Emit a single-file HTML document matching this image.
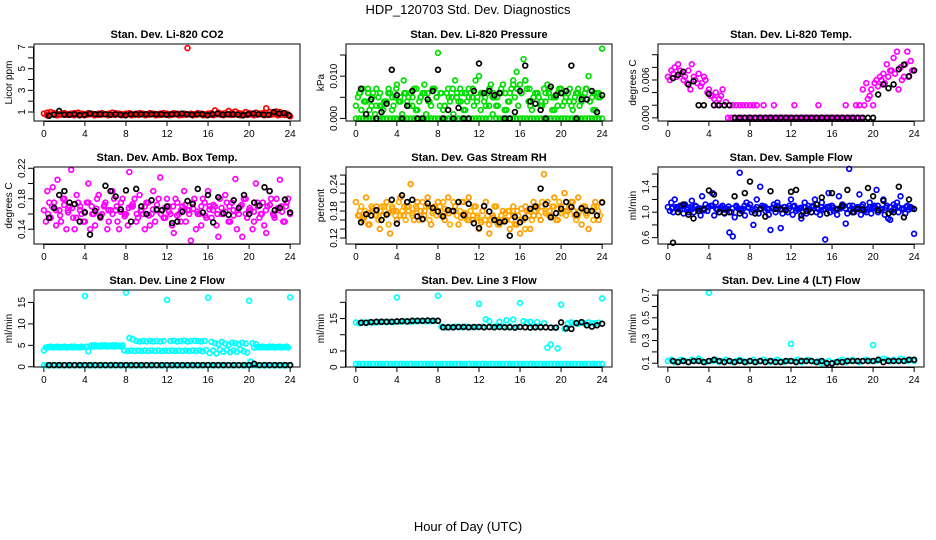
<!DOCTYPE html>
<html><head><meta charset="utf-8"><title>HDP_120703 Std. Dev. Diagnostics</title>
<style>
html,body{margin:0;padding:0;background:#fff;}
svg{display:block;font-family:"Liberation Sans",sans-serif;}
</style></head>
<body>
<svg id="chart" width="936" height="540" viewBox="0 0 936 540" xmlns="http://www.w3.org/2000/svg">
<rect x="0" y="0" width="936" height="540" fill="#fff"/>
<text x="468" y="14" text-anchor="middle" font-size="13">HDP_120703  Std. Dev. Diagnostics</text>
<text x="468" y="531" text-anchor="middle" font-size="13">Hour of Day (UTC)</text>
</svg>
<script>
// ---- data arrays (x = evenly spaced hours) ----
const xTicks = [0,4,8,12,16,20,24];
const xTickLabels = ["0","4","8","12","16","20","24"];

const co2Red1 = [0.85,0.95,1.0,0.9,0.8,0.85,0.9,0.8,0.85,0.9,0.95,0.85,0.8,0.9,0.85,0.8,0.85,0.9,0.8,0.85,0.95,0.9,0.85,0.8,0.85,0.9,0.8,0.85,0.9,0.85,0.8,0.9,0.85,0.8,0.85,0.9,0.85,0.8,0.9,0.85,0.8,0.85,6.9,0.85,0.8,0.9,0.85,0.8,0.85,0.9,1.15,0.95,0.85,0.9,1.1,0.95,1.05,0.9,0.85,1.0,0.9,0.85,0.95,0.85,0.9,1.35,1.0,0.9,1.05,1.0,0.9,0.85,0.6];
const co2Red2 = [0.7,0.75,0.8,0.7,0.75,0.8,0.72,0.75,0.7,0.78,0.75,0.7,0.75,0.8,0.7,0.72,0.75,0.8,0.7,0.75,0.72,0.78,0.7,0.75,0.8,0.7,0.75,0.72,0.78,0.7,0.75,0.8,0.7,0.72,0.75,0.78,0.7,0.75,0.8,0.7,0.72,0.75,0.78,0.7,0.75,0.8,0.7,0.72,0.75,0.7,0.8,0.75,0.7,0.78,0.72,0.75,0.8,0.7,0.75,0.72,0.78,0.7,0.75,0.8,0.7,0.72,0.75,0.8,0.7,0.75,0.72,0.7];
const co2Black = [0.65,0.75,1.1,0.75,0.75,0.8,0.7,0.75,0.85,0.8,0.8,0.8,0.75,0.8,0.75,0.7,0.8,0.8,0.8,0.8,0.8,0.8,0.8,0.75,0.8,0.8,0.85,0.8,0.75,0.8,0.8,0.7,0.8,0.85,0.75,0.8,0.8,0.75,0.7,0.8,0.85,0.8,0.75,0.75,1.0,0.85,0.9,0.7];

const presGreen1 = [0.003,0.006,0.007,0.004,0.002,0.006,0.007,0.003,0.002,0.004,0.006,0.003,0.008,0.005,0.009,0.004,0.006,0.007,0.002,0.005,0.008,0.006,0.003,0.007,0.0155,0.006,0.003,0.007,0.005,0.009,0.004,0.006,0.002,0.007,0.005,0.009,0.01,0.006,0.003,0.007,0.005,0.003,0.006,0.008,0.002,0.006,0.009,0.011,0.008,0.014,0.007,0.003,0.005,0.006,0.003,0.007,0.008,0.005,0.002,0.006,0.007,0.004,0.006,0.003,0.005,0.007,0.004,0.006,0.01,0.005,0.002,0.006,0.0165];
const presGreen2 = [0.005,0.002,0.004,0.006,0.003,0.001,0.005,0.003,0.004,0.007,0.002,0.005,0.004,0.001,0.006,0.003,0.005,0.002,0.004,0.006,0.001,0.004,0.007,0.005,0.003,0.002,0.006,0.004,0.001,0.005,0.007,0.002,0.004,0.006,0.003,0.005,0.002,0.004,0.006,0.008,0.005,0.003,0.006,0.002,0.004,0.007,0.005,0.003,0.006,0.009,0.004,0.002,0.006,0.005,0.003,0.004,0.006,0.002,0.005,0.007,0.003,0.005,0.004,0.002,0.006,0.003,0.005,0.007,0.004,0.002,0.006,0.005];
const presGreen4 = [0.006,0.004,0.007,0.005,0.003,0.006,0.004,0.006,0.005,0.007,0.004,0.006,0.005,0.003,0.007,0.005,0.006,0.004,0.007,0.005,0.006,0.003,0.005,0.007,0.006,0.004,0.006,0.005,0.007,0.004,0.006,0.005,0.003,0.006,0.005,0.007,0.006,0.004,0.008,0.007,0.006,0.009,0.007,0.005,0.006,0.004,0.006,0.007,0.005,0.003,0.006,0.005,0.007,0.004,0.006,0.005,0.007,0.004,0.006,0.005];
const presGreen3 = [0,0,0,0,0,0,0,0,0,0,0,0,0,0,0,0,0,0,0,0,0,0,0,0,0,0,0,0,0,0,0,0,0,0,0,0,0,0,0,0,0.001,0,0,0,0,0,0,0,0,0,0,0,0,0,0,0,0,0,0,0,0,0,0,0,0,0,0,0,0,0,0,0,0];
const presBlack = [0.007,0.001,0.0045,0,0.0015,0.0035,0.0115,0.0055,0,0.003,0.0065,0,0,0.0045,0.0065,0.0115,0,0.002,0,0.0025,0,0,0.0065,0.013,0.006,0.0065,0.0055,0.006,0,0,0.0015,0.0065,0.0125,0.004,0.0035,0.002,0,0.0075,0.0055,0.006,0.0065,0.0125,0,0.0045,0.0045,0.0065,0.0015,0.0055];

const tempMag1 = [0.0065,0.0075,0.008,0.0085,0.007,0.0065,0.0075,0.0085,0.006,0.007,0.0055,0.006,0.0045,0.0035,0.004,0.003,0.0045,0.0025,0.002,0.002,0.002,0.002,0.002,0.002,0.002,0.002,0.002,0,0.002,0,0,0.002,0,0,0,0,0,0.002,0,0,0,0,0,0,0.002,0,0,0,0,0,0,0,0.002,0,0,0.002,0.002,0.0045,0.0055,0.0035,0.002,0.006,0.0065,0.007,0.0085,0.0075,0.0095,0.0105,0.008,0.0065,0.0105,0.009,0.0075];
const tempMag2 = [0.006,0.007,0.0065,0.0075,0.006,0.0055,0.0045,0.0065,0.0055,0.005,0.0065,0.004,0.0035,0.003,0.002,0.0035,0.002,0,0,0,0,0,0,0,0,0,0,0,0,0,0,0,0,0,0,0,0,0,0,0,0,0,0,0,0,0,0,0,0,0,0,0,0,0,0,0,0,0.002,0.003,0.0045,0.0055,0.005,0.006,0.0055,0.0065,0.0075,0.007,0.0045,0.006,0.0085,0.0065,0.0075];
const tempBlack = [0.0063,0.0068,0.0073,0.0053,0.0058,0.002,0.002,0.0038,0.002,0.002,0.002,0.002,0,0,0,0,0,0,0,0,0,0,0,0,0,0,0,0,0,0,0,0,0,0,0,0,0,0,0,0,0.0037,0.0053,0.0047,0.0053,0.0077,0.0084,0.0066,0.0075];

const ambMag1 = [0.165,0.19,0.155,0.175,0.205,0.15,0.18,0.165,0.218,0.14,0.175,0.16,0.15,0.2,0.17,0.145,0.185,0.16,0.175,0.15,0.19,0.165,0.14,0.18,0.16,0.215,0.17,0.15,0.185,0.16,0.175,0.145,0.19,0.165,0.208,0.155,0.18,0.16,0.135,0.175,0.15,0.19,0.165,0.125,0.18,0.16,0.145,0.175,0.19,0.155,0.17,0.13,0.16,0.185,0.15,0.175,0.206,0.16,0.13,0.18,0.165,0.14,0.2,0.155,0.175,0.135,0.19,0.16,0.18,0.205,0.15,0.175,0.16];
const ambMag2 = [0.15,0.175,0.195,0.145,0.165,0.18,0.14,0.17,0.155,0.185,0.165,0.15,0.175,0.14,0.16,0.18,0.155,0.17,0.14,0.165,0.18,0.15,0.175,0.16,0.145,0.17,0.18,0.155,0.165,0.14,0.175,0.16,0.15,0.18,0.165,0.155,0.17,0.145,0.18,0.16,0.17,0.15,0.165,0.175,0.14,0.16,0.18,0.155,0.17,0.165,0.145,0.18,0.16,0.175,0.15,0.165,0.14,0.17,0.18,0.155,0.165,0.15,0.175,0.16,0.145,0.17,0.18,0.155,0.165,0.17,0.15,0.18];
const ambMag3 = [0.16,0.17,0.165,0.158,0.172,0.162,0.168,0.155,0.17,0.163,0.175,0.16,0.167,0.158,0.172,0.165,0.16,0.17,0.163,0.157,0.168,0.173,0.16,0.165,0.17,0.158,0.166,0.172,0.16,0.168,0.163,0.17,0.158,0.165,0.172,0.16,0.167,0.163,0.17,0.158,0.166,0.172,0.16,0.168,0.163,0.17,0.158,0.165,0.172,0.16,0.168,0.163,0.17,0.16,0.165,0.172,0.158,0.168,0.163,0.17];
const ambBlack = [0.155,0.168,0.185,0.19,0.175,0.173,0.15,0.162,0.133,0.164,0.156,0.197,0.19,0.183,0.166,0.191,0.15,0.193,0.17,0.16,0.178,0.166,0.165,0.17,0.148,0.15,0.163,0.177,0.173,0.193,0.162,0.185,0.149,0.182,0.161,0.159,0.178,0.168,0.185,0.16,0.175,0.171,0.195,0.19,0.165,0.168,0.179,0.162];

const rhOr1 = [0.2,0.17,0.16,0.21,0.15,0.18,0.19,0.14,0.17,0.2,0.13,0.18,0.16,0.21,0.17,0.19,0.24,0.16,0.2,0.18,0.17,0.21,0.15,0.19,0.2,0.17,0.16,0.21,0.18,0.19,0.15,0.2,0.17,0.21,0.16,0.19,0.14,0.18,0.2,0.13,0.17,0.19,0.15,0.18,0.16,0.14,0.17,0.15,0.13,0.16,0.18,0.14,0.17,0.19,0.16,0.262,0.2,0.17,0.21,0.16,0.19,0.22,0.18,0.2,0.17,0.21,0.15,0.19,0.14,0.18,0.2,0.16,0.2];
const rhOr2 = [0.17,0.19,0.18,0.15,0.19,0.17,0.16,0.19,0.18,0.15,0.19,0.17,0.2,0.18,0.16,0.19,0.17,0.19,0.16,0.2,0.19,0.16,0.18,0.17,0.19,0.2,0.18,0.15,0.2,0.17,0.18,0.2,0.16,0.18,0.19,0.17,0.16,0.19,0.17,0.16,0.19,0.15,0.17,0.16,0.18,0.16,0.15,0.17,0.16,0.14,0.17,0.16,0.18,0.17,0.2,0.18,0.17,0.19,0.16,0.2,0.18,0.17,0.19,0.2,0.16,0.18,0.19,0.17,0.18,0.16,0.19,0.17];
const rhOr3 = [0.18,0.165,0.175,0.185,0.17,0.18,0.19,0.175,0.185,0.18,0.17,0.19,0.18,0.175,0.185,0.17,0.18,0.19,0.175,0.18,0.17,0.185,0.175,0.18,0.17,0.165,0.175,0.16,0.17,0.165,0.155,0.16,0.15,0.165,0.16,0.17,0.175,0.18,0.19,0.18,0.185,0.19,0.18,0.2,0.185,0.19,0.175,0.18,0.19,0.185,0.175,0.18,0.19,0.18,0.17,0.185,0.175,0.18,0.19,0.18];
const rhBlack = [0.155,0.173,0.17,0.182,0.16,0.172,0.205,0.152,0.215,0.2,0.205,0.168,0.162,0.197,0.187,0.179,0.168,0.182,0.18,0.2,0.171,0.196,0.153,0.142,0.191,0.179,0.16,0.155,0.157,0.125,0.167,0.155,0.165,0.185,0.19,0.23,0.195,0.166,0.175,0.185,0.2,0.189,0.172,0.186,0.181,0.18,0.17,0.199];

const flowBlue1 = [1.08,1.15,1.2,1.05,1.1,1.12,1.0,1.18,1.1,1.05,1.25,1.12,1.08,1.3,1.15,1.0,1.1,1.05,0.68,0.62,1.1,1.62,1.05,1.15,1.12,0.8,1.2,1.4,1.08,1.05,0.72,1.12,1.15,0.75,1.08,1.0,1.2,1.1,1.05,0.9,1.15,1.1,1.08,1.2,1.05,1.15,0.57,1.3,1.1,1.05,1.25,1.12,0.82,1.68,1.1,1.05,1.28,1.12,1.0,1.15,1.08,1.35,1.05,1.2,1.1,0.88,1.12,1.15,1.25,1.05,1.1,1.08,0.66];
const flowBlue2 = [1.02,1.0,1.06,1.1,0.98,1.04,1.08,1.0,1.05,0.95,1.06,1.02,1.1,0.95,1.04,1.08,0.98,1.05,1.0,0.92,1.06,1.02,0.95,1.08,1.0,1.05,0.98,1.1,1.02,0.96,1.06,1.0,1.08,0.98,1.04,1.1,0.96,1.02,1.06,1.0,0.98,1.05,1.1,1.0,0.96,1.04,1.08,1.0,1.02,0.96,1.06,1.1,0.98,1.04,1.0,1.08,0.96,1.02,1.05,0.98,1.1,1.0,1.04,0.96,0.9,1.02,1.08,1.0,1.05,0.98,1.04,1.06];
const flowBlue3 = [1.06,1.08,1.04,1.1,1.07,1.05,1.09,1.06,1.03,1.08,1.1,1.05,1.07,1.04,1.09,1.06,1.08,1.05,1.1,1.07,1.04,1.08,1.06,1.09,1.05,1.07,1.1,1.04,1.08,1.06,1.09,1.05,1.07,1.08,1.04,1.1,1.06,1.08,1.05,1.09,1.07,1.04,1.08,1.06,1.1,1.05,1.07,1.09,1.04,1.08,1.06,1.1,1.05,1.07,1.08,1.04,1.09,1.06,1.08,1.07];
const flowBlack = [0.52,1.0,1.12,0.96,0.9,1.02,1.05,1.34,1.28,1.0,0.99,1.0,1.25,0.98,1.3,1.48,0.98,1.05,0.93,1.33,1.05,1.05,1.03,1.32,1.35,0.95,1.02,1.0,1.12,1.23,0.98,1.3,1.05,1.1,1.35,1.0,1.05,1.04,1.38,1.25,1.03,1.18,0.98,1.0,1.4,0.92,1.2,1.05];

const l2Cyan1 = [3.8,4.6,4.7,4.6,4.7,4.6,4.7,4.6,4.7,4.7,4.6,4.7,16.5,3.6,5.0,5.0,4.9,5.0,5.0,4.9,5.0,5.0,4.9,5.0,17.3,6.7,6.4,6.0,5.9,6.0,5.9,6.0,5.9,6.0,5.9,6.0,15.6,6.0,6.1,5.9,6.0,6.1,5.9,6.0,6.1,6.0,5.9,6.0,16.1,5.8,5.5,5.3,5.8,5.4,5.1,5.6,5.5,5.3,5.6,5.4,15.4,5.5,5.3,4.6,4.7,4.6,4.7,4.7,4.6,4.7,4.6,4.7,16.2];
const l2Cyan2 = [4.5,4.6,4.5,4.6,4.5,4.6,4.5,4.6,4.5,4.6,4.5,4.6,4.7,4.8,4.7,4.8,4.7,4.8,4.7,4.8,4.7,4.8,4.7,3.8,3.7,3.8,3.7,3.8,3.7,3.8,3.7,3.8,3.7,3.8,3.7,3.8,3.7,3.8,3.7,3.8,3.7,3.8,3.7,3.8,3.7,3.8,3.6,3.9,3.2,3.8,3.1,4.0,3.5,3.9,3.4,3.8,3.5,4.0,3.6,3.3,1.2,4.5,4.6,4.5,4.6,4.5,4.6,4.5,4.6,4.5,4.6,4.5];
const l2Cyan3 = [0.35,0.35,0.35,0.35,0.35,0.35,0.35,0.35,0.35,0.35,0.35,0.35,0.35,0.35,0.35,0.35,0.35,0.35,0.35,0.35,0.35,0.35,0.35,0.35,0.35,0.35,0.35,0.35,0.35,0.35,0.35,0.35,0.35,0.35,0.35,0.35,0.35,0.35,0.35,0.35,0.35,0.35,0.35,0.35,0.35,0.35,0.35,0.35,0.35,0.35,0.35,0.35,0.35,0.35,0.35,0.35,0.35,0.35,0.35,0.35,0.35,0.35,0.35,0.35,0.35,0.35,0.35,0.35,0.35,0.35,0.35,0.35,0.35];
const l2Black = [0.4,0.4,0.4,0.4,0.4,0.4,0.4,0.4,0.4,0.4,0.4,0.4,0.4,0.4,0.4,0.4,0.4,0.4,0.4,0.4,0.4,0.4,0.4,0.4,0.4,0.4,0.4,0.4,0.4,0.4,0.4,0.4,0.4,0.4,0.4,0.4,0.4,0.4,0.4,0.4,0.7,0.4,0.4,0.4,0.4,0.4,0.4,0.4];

const l3Cyan1 = [13.8,13.5,13.8,13.6,13.9,13.7,13.8,13.9,14.0,13.8,14.0,13.9,21.5,14.0,14.1,14.2,14.0,14.2,14.1,14.3,14.2,14.1,14.2,14.3,22.0,12.5,12.2,12.4,12.3,12.5,12.4,12.3,12.5,12.4,12.3,12.4,19.5,12.5,14.8,14.2,12.4,12.6,14.0,12.5,14.5,12.6,14.7,12.4,19.8,14.2,13.8,14.0,12.3,13.9,12.6,13.5,6.0,7.0,12.2,5.8,19.3,11.8,13.5,13.8,13.6,13.4,13.7,13.5,13.8,13.6,13.5,13.7,21.2];
const l3Cyan2 = [1.0,1.0,1.0,1.0,1.0,1.0,1.0,1.0,1.0,1.0,1.0,1.0,1.0,1.0,1.0,1.0,1.0,1.0,1.0,1.0,1.0,1.0,1.0,1.0,1.0,1.0,1.0,1.0,1.0,1.0,1.0,1.0,1.0,1.0,1.0,1.0,1.0,1.0,1.0,1.0,1.0,1.0,1.0,1.0,1.0,1.0,1.0,1.0,1.0,1.0,1.0,1.0,1.0,1.0,1.0,1.0,1.0,1.0,1.0,1.0,1.0,1.0,1.0,1.0,1.0,1.0,1.0,1.0,1.0,1.0,1.0,1.0,1.0];
const l3Black = [13.7,13.7,13.9,14.0,14.0,14.0,14.0,14.1,14.2,14.1,14.3,14.3,14.3,14.4,14.3,14.3,12.3,12.3,12.3,12.4,12.4,12.3,12.4,12.4,12.3,12.4,12.3,12.4,12.3,12.3,12.2,12.4,12.3,12.2,12.3,12.3,12.3,12.2,12.2,13.8,12.0,11.8,13.6,13.9,12.9,12.5,12.9,13.4];

const l4Cyan1 = [0.12,0.13,0.11,0.12,0.13,0.12,0.11,0.13,0.12,0.14,0.12,0.11,0.72,0.12,0.13,0.11,0.12,0.13,0.12,0.11,0.12,0.13,0.12,0.11,0.12,0.13,0.11,0.12,0.13,0.12,0.11,0.12,0.13,0.12,0.11,0.12,0.27,0.12,0.13,0.11,0.12,0.13,0.12,0.11,0.12,0.1,0.11,0.12,0.1,0.11,0.12,0.13,0.11,0.12,0.13,0.12,0.11,0.12,0.13,0.12,0.26,0.12,0.13,0.14,0.13,0.12,0.13,0.12,0.14,0.13,0.12,0.13,0.12];
const l4Black = [0.12,0.11,0.12,0.11,0.12,0.12,0.11,0.12,0.13,0.12,0.11,0.12,0.11,0.12,0.11,0.12,0.11,0.12,0.11,0.12,0.11,0.11,0.12,0.12,0.11,0.12,0.12,0.12,0.11,0.12,0.1,0.1,0.11,0.11,0.12,0.12,0.12,0.12,0.12,0.12,0.13,0.11,0.12,0.12,0.12,0.12,0.13,0.13];

// ---- drawing ----
const NS = "http://www.w3.org/2000/svg";
const svg = document.getElementById('chart');
const colL = [34,346,658], rowT = [44,167,290], W = 266, H = 77;

function mk(tag, attrs, parent){
  const e = document.createElementNS(NS, tag);
  for (const k in attrs) e.setAttribute(k, attrs[k]);
  parent.appendChild(e);
  return e;
}

const panels = [
  {title:"Stan. Dev. Li-820 CO2", ylab:"Licor ppm", dom:[0.17,7.28], ticks:[1,2,3,4,5,6,7], labels:{1:"1",3:"3",5:"5",7:"7"}, series:[[co2Red2,"#ff0000",0.3,23.8],[co2Red1,"#ff0000",0,24],[co2Black,"#000",0.5,23.9]]},
  {title:"Stan. Dev. Li-820 Pressure", ylab:"kPa", dom:[-0.0006,0.0176], ticks:[0,0.005,0.01,0.015], labels:{0:"0.000",0.01:"0.010"}, series:[[presGreen3,"#00dd00",0,24],[presGreen4,"#00dd00",0.4,23.6],[presGreen2,"#00dd00",0.2,23.8],[presGreen1,"#00dd00",0,24],[presBlack,"#000",0.5,24]]},
  {title:"Stan. Dev. Li-820 Temp.", ylab:"degrees C", dom:[-0.0005,0.0117], ticks:[0,0.002,0.004,0.006,0.008,0.010], labels:{0:"0.000",0.006:"0.006"}, series:[[tempMag2,"#ff00ff",0.2,23.8],[tempMag1,"#ff00ff",0,24],[tempBlack,"#000",0.5,24]]},
  {title:"Stan. Dev. Amb. Box Temp.", ylab:"degrees C", dom:[0.1206,0.2217], ticks:[0.14,0.16,0.18,0.2,0.22], labels:{0.14:"0.14",0.18:"0.18",0.22:"0.22"}, series:[[ambMag3,"#ff00ff",0.4,23.6],[ambMag2,"#ff00ff",0.2,23.8],[ambMag1,"#ff00ff",0,24],[ambBlack,"#000",0.5,24]]},
  {title:"Stan. Dev. Gas Stream RH", ylab:"percent", dom:[0.1066,0.278], ticks:[0.12,0.14,0.16,0.18,0.2,0.22,0.24,0.26], labels:{0.12:"0.12",0.18:"0.18",0.24:"0.24"}, series:[[rhOr3,"#ffa000",0.4,23.6],[rhOr2,"#ffb000",0.2,23.8],[rhOr1,"#ff9a00",0,24],[rhBlack,"#000",0.5,24]]},
  {title:"Stan. Dev. Sample Flow", ylab:"ml/min", dom:[0.5,1.71], ticks:[0.6,0.8,1.0,1.2,1.4,1.6], labels:{0.6:"0.6",1.0:"1.0",1.4:"1.4"}, series:[[flowBlue3,"#0000ff",0.4,23.6],[flowBlue2,"#0000ff",0.2,23.8],[flowBlue1,"#0000ff",0,24],[flowBlack,"#000",0.5,24]]},
  {title:"Stan. Dev. Line 2 Flow", ylab:"ml/min", dom:[-0.05,17.9], ticks:[0,5,10,15], labels:{0:"0",5:"5",10:"10",15:"15"}, series:[[l2Cyan3,"#00ffff",0,24],[l2Cyan2,"#00ffff",0.2,23.8],[l2Cyan1,"#00ffff",0,24],[l2Black,"#000",0.5,24]]},
  {title:"Stan. Dev. Line 3 Flow", ylab:"ml/min", dom:[0.05,23.8], ticks:[0,5,10,15,20], labels:{0:"0",5:"5",15:"15"}, series:[[l3Cyan2,"#00ffff",0,24],[l3Cyan1,"#00ffff",0,24],[l3Black,"#000",0.5,24]]},
  {title:"Stan. Dev. Line 4 (LT) Flow", ylab:"ml/min", dom:[0.067,0.745], ticks:[0.1,0.2,0.3,0.4,0.5,0.6,0.7], labels:{0.1:"0.1",0.3:"0.3",0.5:"0.5",0.7:"0.7"}, series:[[l4Cyan1,"#00ffff",0,24],[l4Black,"#000",0.5,24]]}
];

panels.forEach((p, idx) => {
  const L = colL[idx % 3], T = rowT[Math.floor(idx / 3)];
  const g = mk('g', {}, svg);
  
  
  const xs = h => L + (h + 0.96) / 25.92 * W;
  const ys = v => T + H - (v - p.dom[0]) / (p.dom[1] - p.dom[0]) * H;

  const tt = mk('text', {x: L + W / 2, y: T - 6, 'text-anchor': 'middle', 'font-size': 11, 'font-weight': 'bold'}, g);
  
  
  tt.textContent = p.title;

  const yl = mk('text', {x: 0, y: 0, 'text-anchor': 'middle', 'font-size': 10, transform: `translate(${L - 22},${T + H / 2}) rotate(-90)`}, g);
  
  
  yl.textContent = p.ylab;

  const xa = mk('g', {stroke: '#000', 'stroke-width': 1}, g);
  
  
  mk('line', {x1: xs(0), x2: xs(24), y1: T + H + 0.5, y2: T + H + 0.5}, xa);
  xTicks.forEach((t, i) => {
    mk('line', {x1: xs(t), x2: xs(t), y1: T + H, y2: T + H + 5}, xa);
    const lb = mk('text', {x: xs(t), y: T + H + 16, 'text-anchor': 'middle', 'font-size': 10, stroke: 'none', fill: '#000'}, xa);
    
    
    lb.textContent = xTickLabels[i];
  });

  const ya = mk('g', {stroke: '#000', 'stroke-width': 1}, g);
  
  
  const vis = p.ticks.filter(t => ys(t) >= T - 0.5 && ys(t) <= T + H + 0.5);
  mk('line', {x1: L - 0.5, x2: L - 0.5, y1: ys(vis[0]), y2: ys(vis[vis.length - 1])}, ya);
  vis.forEach(t => {
    mk('line', {x1: L - 6, x2: L, y1: ys(t), y2: ys(t)}, ya);
    if (p.labels[t] !== undefined) {
      const lb = mk('text', {x: 0, y: 0, 'text-anchor': 'middle', 'font-size': 10, stroke: 'none', fill: '#000', transform: `translate(${L - 9},${ys(t)}) rotate(-90)`}, ya);
      
      
      lb.textContent = p.labels[t];
    }
  });

  p.series.forEach((s, si) => {
    const [vals, col, h0, h1] = s;
    const sg = mk('g', {fill: 'none', stroke: col, 'stroke-width': 1.7}, g);
    
    
    const n = vals.length;
    vals.forEach((v, i) => {
      const h = h0 + (h1 - h0) * i / (n - 1);
      const c = mk('circle', {cx: xs(h).toFixed(1), cy: ys(v).toFixed(1), r: 2.4}, sg);
      
      
    });
  });

  const box = mk('rect', {x: L, y: T, width: W, height: H, fill: 'none', stroke: '#000', 'stroke-width': 1}, g);
  
  
});
</script>
</body></html>
